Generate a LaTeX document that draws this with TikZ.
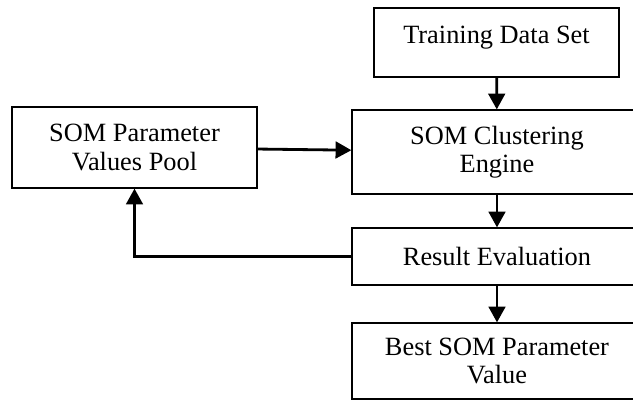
\documentclass[tikz,border=0pt]{standalone}
\usepackage{fontspec}
\setmainfont{Liberation Serif}
\usepackage{tikz}
\usetikzlibrary{arrows.meta}

\begin{document}
\begin{tikzpicture}[
    box/.style={draw, line width=0.7pt, align=center, inner sep=0pt, font=\fontsize{15}{16}\selectfont},
    flow/.style={line width=1.6pt, -{Triangle[length=9pt, width=9.5pt]}}
  ]
    \useasboundingbox (0, 0) rectangle (12.66, -8.02);
    \node[box, minimum width=4.9cm, minimum height=1.38cm, text depth=0.32cm] (train) at (9.93, -0.85) {Training Data Set};
    \node[box, minimum width=5.8cm, minimum height=1.68cm] (engine) at (9.94, -3.04) {SOM Clustering\\Engine};
    \node[box, minimum width=5.8cm, minimum height=1.14cm] (eval) at (9.94, -5.13) {Result Evaluation};
    \node[box, minimum width=5.8cm, minimum height=1.52cm] (best) at (9.94, -7.22) {Best SOM Parameter\\Value};
    \node[box, minimum width=4.9cm, minimum height=1.62cm] (pool) at (2.69, -2.95) {SOM Parameter\\Values Pool};
    \draw[flow] (train) -- (engine);
    \draw[flow] (engine) -- (eval);
    \draw[flow] (eval) -- (best);
    \draw[flow] (pool) -- (engine);
    \draw[flow] (eval.west) -| (pool.south);
\end{tikzpicture}
\end{document}
